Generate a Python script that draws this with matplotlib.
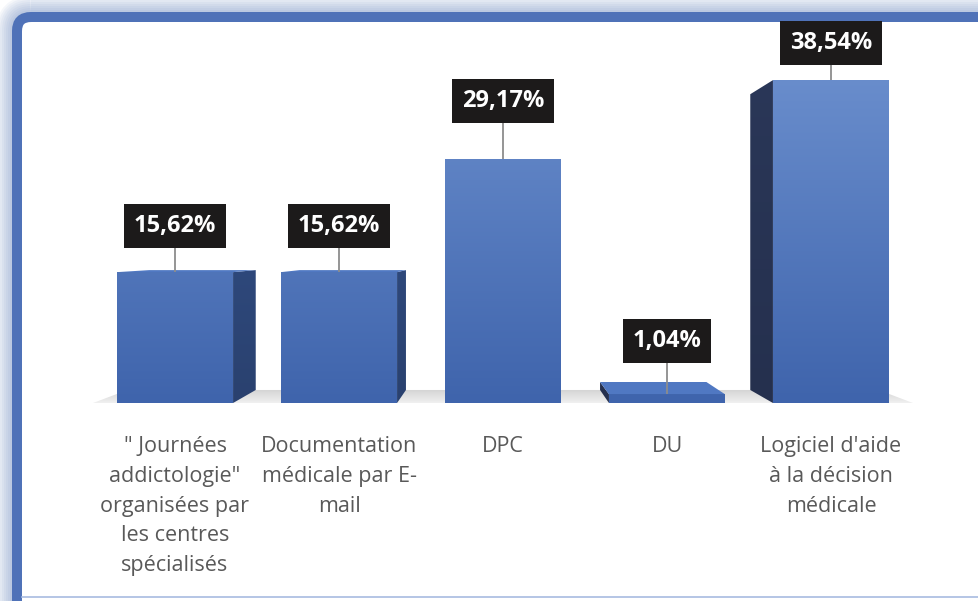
import numpy as np
import matplotlib.pyplot as plt
from matplotlib.patches import Polygon, FancyBboxPatch
from matplotlib.colors import to_rgb

plt.rcParams['font.family'] = ['Open Sans', 'DejaVu Sans']

# Data
categories = ['" Journées\naddictologie"\norganisées par\nles centres\nspécialisés',
              'Documentation\nmédicale par E-\nmail',
              'DPC',
              'DU',
              "Logiciel d'aide\nà la décision\nmédicale"]
values = [15.62, 15.62, 29.17, 1.04, 38.54]

# layout: how high each value box sits above its bar (in %)
label_lift = [5.5, 5.5, 6.9, 6.4, 4.4]

# fake 3D: vanishing point (data coords) and depth factor
V = np.array([2.0, 18.5])
k = 0.084
hw = 0.354


def back(p):
    p = np.asarray(p, float)
    return tuple(p + k * (V - p))


def grad_fill(ax, verts, c_lo, c_hi, v_lo, v_hi, z):
    poly = Polygon(verts, closed=True, facecolor='none', edgecolor='none')
    ax.add_patch(poly)
    xs, ys = zip(*verts)
    y0, y1 = min(ys), max(ys)
    t = np.clip((np.linspace(y0, y1, 80) - v_lo) / (v_hi - v_lo), 0, 1)[:, None]
    rgb = (1 - t) * np.array(to_rgb(c_lo)) + t * np.array(to_rgb(c_hi))
    img = ax.imshow(rgb[:, None, :], extent=(min(xs), max(xs), y0, y1), origin='lower',
                    aspect='auto', zorder=z, interpolation='bilinear')
    img.set_clip_path(poly)


fig = plt.figure(figsize=(9.79, 6.01), dpi=100)

# frame in pixel coords
bg = fig.add_axes([0, 0, 1, 1], zorder=-5)
bg.set_xlim(0, 979)
bg.set_ylim(601, 0)
bg.axis('off')
for w in range(2, 18, 2):
    o = w / 2
    bg.add_patch(FancyBboxPatch((17 - o, 17 - o), 1000 + 2 * o, 600 + 2 * o,
                                boxstyle=f'round,pad=0,rounding_size={14 + o}',
                                lw=(10 + w) * 0.72, edgecolor=(0.35, 0.48, 0.72, 0.06),
                                facecolor='none'))
bg.add_patch(FancyBboxPatch((17, 17), 1000, 600, boxstyle='round,pad=0,rounding_size=14',
                            lw=7.2, edgecolor='#4F72B8', facecolor='white'))
bg.plot([22, 979], [597, 597], color='#A8BBE0', lw=1.2)

ax = fig.add_axes([93 / 979, (601 - 403) / 601, 820 / 979, 377 / 601])
ax.patch.set_alpha(0)

# floor
floor = [(-0.5, 0), (4.5, 0), back((4.5, 0)), back((-0.5, 0))]
grad_fill(ax, floor, '#F0F0F0', '#D2D2D2', 0, 1.6, 1)

for i, v in enumerate(values):
    fl, fr = i - hw, i + hw
    FL0, FR0, FL1, FR1 = (fl, 0), (fr, 0), (fl, v), (fr, v)
    if fr < V[0]:
        grad_fill(ax, [FR0, FR1, back(FR1), back(FR0)], '#2A416F', '#34528C', 0, 40, 2)
    if fl > V[0]:
        grad_fill(ax, [FL0, FL1, back(FL1), back(FL0)], '#25304E', '#2A3758', 0, 40, 2)
    if v < V[1]:
        ax.add_patch(Polygon([FL1, FR1, back(FR1), back(FL1)], closed=True,
                             facecolor='#5078C2', edgecolor='none', zorder=2))
    grad_fill(ax, [FL0, FR0, FR1, FL1], '#3F64AC', '#6A8ECD', 0, 40, 3)

    # leader line + value box
    ax.plot([i, i], [v, v + label_lift[i]], color='#8C8C8C', lw=1.3, zorder=4,
            solid_capstyle='butt')
    ax.text(i, v + label_lift[i], f'{v:.2f}'.replace('.', ',') + '%',
            ha='center', va='center', color='white', fontsize=17, fontweight='bold',
            zorder=5, clip_on=False,
            bbox=dict(boxstyle='square,pad=0.42', facecolor='#1C1A1A', edgecolor='none'))

    # category label
    ax.annotate(categories[i], xy=(i, 0), xytext=(0, -33), textcoords='offset pixels',
                ha='center', va='top', color='#595959', fontsize=15.5,
                linespacing=1.55, annotation_clip=False)

ax.set_xlim(-0.5, 4.5)
ax.set_ylim(0, 45)
ax.axis('off')

fig.savefig('out.png', dpi=100)
